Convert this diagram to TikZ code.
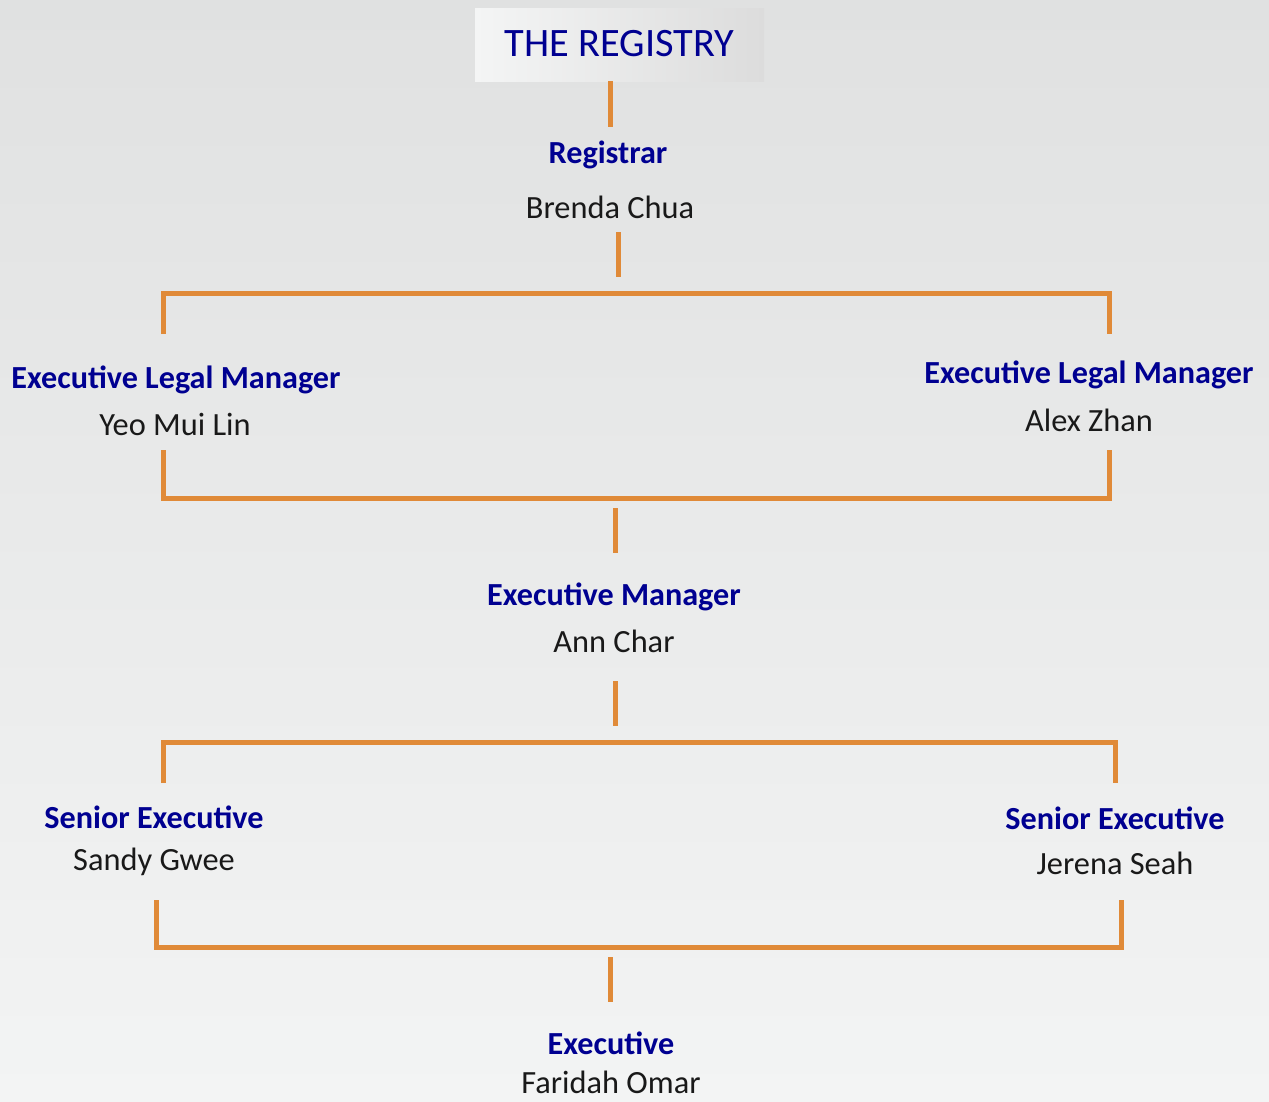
\documentclass[tikz,border=0pt]{standalone}
\usepackage{fontspec}
\setmainfont{Carlito}
\usepackage{tikz}
\usetikzlibrary{positioning, calc}

\definecolor{linkorange}{RGB}{224,138,56}
\definecolor{roleblue}{RGB}{0,0,145}
\definecolor{bgtop}{RGB}{224,225,225}
\definecolor{bgbot}{RGB}{243,244,244}

\begin{document}
\begin{tikzpicture}[
  x=1bp, y=-1bp,
  role/.style={font=\fontsize{32.3}{36}\selectfont\bfseries, text=roleblue, inner sep=0pt},
  person/.style={font=\fontsize{32.5}{36}\selectfont, text=black!90, inner sep=0pt},
  link/.style={draw=linkorange, line width=5bp}]
% backdrop
\shade[top color=bgtop, bottom color=bgbot] (0,0) rectangle (1269,1102);
\useasboundingbox (0,0) rectangle (1269,1102);

% heading box
\shade[left color={rgb,255:red,244;green,245;blue,245}, right color={rgb,255:red,220;green,220;blue,220}]
  (475,8) rectangle (764,81);
\node[font=\fontsize{40.5}{44}\selectfont, text=roleblue, inner sep=0pt] (head) at (619.5,44) {THE REGISTRY};
\coordinate (headbot) at (610,81);

% people
\node[role]   (reg)    at (608,155)  {Registrar};
\node[person] (regn)   at (610,207)  {Brenda Chua};
\node[role]   (elmL)   at (176,380)  {Executive Legal Manager};
\node[person] (elmLn)  at (175,424)  {Yeo Mui Lin};
\node[role]   (elmR)   at (1089,375) {Executive Legal Manager};
\node[person] (elmRn)  at (1089,420) {Alex Zhan};
\node[role]   (em)     at (614,597)  {Executive Manager};
\node[person] (emn)    at (614,641)  {Ann Char};
\node[role]   (seL)    at (154,817)  {Senior Executive};
\node[person] (seLn)   at (154,862)  {Sandy Gwee};
\node[role]   (seR)    at (1115,818) {Senior Executive};
\node[person] (seRn)   at (1115,863) {Jerena Seah};
\node[role]   (ex)     at (611,1043) {Executive};
\node[person] (exn)    at (611,1082) {Faridah Omar};

% connector ends
\coordinate (a1) at (610,127);
\coordinate (b0) at (618,232);  \coordinate (b1) at (618,277);
\coordinate (c0) at (163,334);  \coordinate (c1) at (1109,334);
\coordinate (d0) at (163,450);  \coordinate (d1) at (1109,450);
\coordinate (e0) at (615,508);  \coordinate (e1) at (615,553);
\coordinate (f0) at (615,681);  \coordinate (f1) at (615,726);
\coordinate (g0) at (163,783);  \coordinate (g1) at (1115,783);
\coordinate (h0) at (156,900);  \coordinate (h1) at (1121,900);
\coordinate (k0) at (610,957);  \coordinate (k1) at (610,1002);

% links
\draw[link] (headbot) -- (a1);
\draw[link] (b0) -- (b1);
\draw[link] (c0) |- (c1 |- 0,293) -- (c1);
\draw[link] (d0) |- (d1 |- 0,498) -- (d1);
\draw[link] (e0) -- (e1);
\draw[link] (f0) -- (f1);
\draw[link] (g0) |- (g1 |- 0,742) -- (g1);
\draw[link] (h0) |- (h1 |- 0,947) -- (h1);
\draw[link] (k0) -- (k1);
\end{tikzpicture}
\end{document}
